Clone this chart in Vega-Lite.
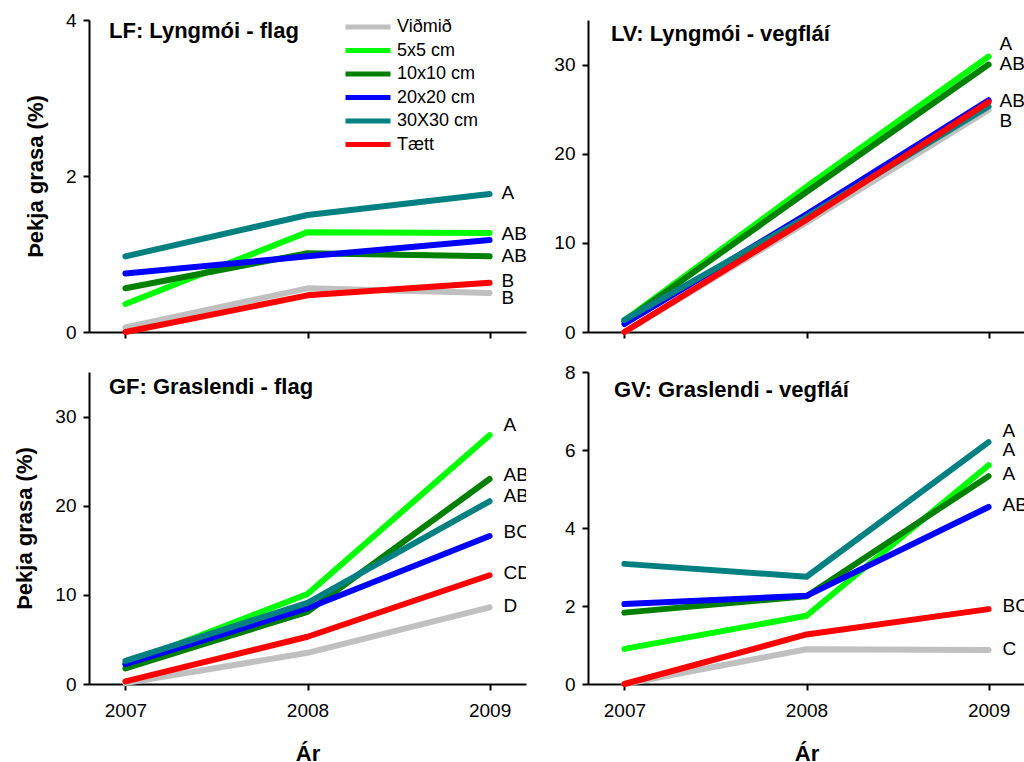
{
  "$schema": "https://vega.github.io/schema/vega-lite/v6.json",
  "background": "white",
  "padding": {"left": 13, "top": 11, "right": 0, "bottom": 0},
  "datasets": {
    "series": [
      {"panel": "LF", "treatment": "Viðmið", "year": 2007, "value": 0.06},
      {"panel": "LF", "treatment": "Viðmið", "year": 2008, "value": 0.56},
      {"panel": "LF", "treatment": "Viðmið", "year": 2009, "value": 0.50},
      {"panel": "LF", "treatment": "5x5 cm", "year": 2007, "value": 0.36},
      {"panel": "LF", "treatment": "5x5 cm", "year": 2008, "value": 1.28},
      {"panel": "LF", "treatment": "5x5 cm", "year": 2009, "value": 1.27},
      {"panel": "LF", "treatment": "10x10 cm", "year": 2007, "value": 0.56},
      {"panel": "LF", "treatment": "10x10 cm", "year": 2008, "value": 1.01},
      {"panel": "LF", "treatment": "10x10 cm", "year": 2009, "value": 0.97},
      {"panel": "LF", "treatment": "20x20 cm", "year": 2007, "value": 0.75},
      {"panel": "LF", "treatment": "20x20 cm", "year": 2008, "value": 0.97},
      {"panel": "LF", "treatment": "20x20 cm", "year": 2009, "value": 1.18},
      {"panel": "LF", "treatment": "30X30 cm", "year": 2007, "value": 0.97},
      {"panel": "LF", "treatment": "30X30 cm", "year": 2008, "value": 1.50},
      {"panel": "LF", "treatment": "30X30 cm", "year": 2009, "value": 1.77},
      {"panel": "LF", "treatment": "Tætt", "year": 2007, "value": 0.0},
      {"panel": "LF", "treatment": "Tætt", "year": 2008, "value": 0.47},
      {"panel": "LF", "treatment": "Tætt", "year": 2009, "value": 0.63},

      {"panel": "LV", "treatment": "Viðmið", "year": 2007, "value": 0.0},
      {"panel": "LV", "treatment": "Viðmið", "year": 2008, "value": 12.3},
      {"panel": "LV", "treatment": "Viðmið", "year": 2009, "value": 24.9},
      {"panel": "LV", "treatment": "5x5 cm", "year": 2007, "value": 1.3},
      {"panel": "LV", "treatment": "5x5 cm", "year": 2008, "value": 16.3},
      {"panel": "LV", "treatment": "5x5 cm", "year": 2009, "value": 30.9},
      {"panel": "LV", "treatment": "10x10 cm", "year": 2007, "value": 1.2},
      {"panel": "LV", "treatment": "10x10 cm", "year": 2008, "value": 15.7},
      {"panel": "LV", "treatment": "10x10 cm", "year": 2009, "value": 30.0},
      {"panel": "LV", "treatment": "20x20 cm", "year": 2007, "value": 0.9},
      {"panel": "LV", "treatment": "20x20 cm", "year": 2008, "value": 13.2},
      {"panel": "LV", "treatment": "20x20 cm", "year": 2009, "value": 26.0},
      {"panel": "LV", "treatment": "30X30 cm", "year": 2007, "value": 1.35},
      {"panel": "LV", "treatment": "30X30 cm", "year": 2008, "value": 12.9},
      {"panel": "LV", "treatment": "30X30 cm", "year": 2009, "value": 25.3},
      {"panel": "LV", "treatment": "Tætt", "year": 2007, "value": 0.0},
      {"panel": "LV", "treatment": "Tætt", "year": 2008, "value": 12.6},
      {"panel": "LV", "treatment": "Tætt", "year": 2009, "value": 25.8},

      {"panel": "GF", "treatment": "Viðmið", "year": 2007, "value": 0.1},
      {"panel": "GF", "treatment": "Viðmið", "year": 2008, "value": 3.5},
      {"panel": "GF", "treatment": "Viðmið", "year": 2009, "value": 8.6},
      {"panel": "GF", "treatment": "5x5 cm", "year": 2007, "value": 2.2},
      {"panel": "GF", "treatment": "5x5 cm", "year": 2008, "value": 10.1},
      {"panel": "GF", "treatment": "5x5 cm", "year": 2009, "value": 27.9},
      {"panel": "GF", "treatment": "10x10 cm", "year": 2007, "value": 1.76},
      {"panel": "GF", "treatment": "10x10 cm", "year": 2008, "value": 8.1},
      {"panel": "GF", "treatment": "10x10 cm", "year": 2009, "value": 23.0},
      {"panel": "GF", "treatment": "20x20 cm", "year": 2007, "value": 2.24},
      {"panel": "GF", "treatment": "20x20 cm", "year": 2008, "value": 8.5},
      {"panel": "GF", "treatment": "20x20 cm", "year": 2009, "value": 16.6},
      {"panel": "GF", "treatment": "30X30 cm", "year": 2007, "value": 2.6},
      {"panel": "GF", "treatment": "30X30 cm", "year": 2008, "value": 9.1},
      {"panel": "GF", "treatment": "30X30 cm", "year": 2009, "value": 20.5},
      {"panel": "GF", "treatment": "Tætt", "year": 2007, "value": 0.3},
      {"panel": "GF", "treatment": "Tætt", "year": 2008, "value": 5.3},
      {"panel": "GF", "treatment": "Tætt", "year": 2009, "value": 12.2},

      {"panel": "GV", "treatment": "Viðmið", "year": 2007, "value": 0.0},
      {"panel": "GV", "treatment": "Viðmið", "year": 2008, "value": 0.89},
      {"panel": "GV", "treatment": "Viðmið", "year": 2009, "value": 0.87},
      {"panel": "GV", "treatment": "5x5 cm", "year": 2007, "value": 0.90},
      {"panel": "GV", "treatment": "5x5 cm", "year": 2008, "value": 1.75},
      {"panel": "GV", "treatment": "5x5 cm", "year": 2009, "value": 5.61},
      {"panel": "GV", "treatment": "10x10 cm", "year": 2007, "value": 1.83},
      {"panel": "GV", "treatment": "10x10 cm", "year": 2008, "value": 2.25},
      {"panel": "GV", "treatment": "10x10 cm", "year": 2009, "value": 5.33},
      {"panel": "GV", "treatment": "20x20 cm", "year": 2007, "value": 2.05},
      {"panel": "GV", "treatment": "20x20 cm", "year": 2008, "value": 2.26},
      {"panel": "GV", "treatment": "20x20 cm", "year": 2009, "value": 4.54},
      {"panel": "GV", "treatment": "30X30 cm", "year": 2007, "value": 3.08},
      {"panel": "GV", "treatment": "30X30 cm", "year": 2008, "value": 2.75},
      {"panel": "GV", "treatment": "30X30 cm", "year": 2009, "value": 6.2},
      {"panel": "GV", "treatment": "Tætt", "year": 2007, "value": 0.0},
      {"panel": "GV", "treatment": "Tætt", "year": 2008, "value": 1.27},
      {"panel": "GV", "treatment": "Tætt", "year": 2009, "value": 1.92}
    ],
    "letters": [
      {"panel": "LF", "letter": "A", "year": 2009, "labelValue": 1.78},
      {"panel": "LF", "letter": "AB", "year": 2009, "labelValue": 1.26},
      {"panel": "LF", "letter": "AB", "year": 2009, "labelValue": 0.97},
      {"panel": "LF", "letter": "B", "year": 2009, "labelValue": 0.66},
      {"panel": "LF", "letter": "B", "year": 2009, "labelValue": 0.43},
      {"panel": "LV", "letter": "A", "year": 2009, "labelValue": 32.3},
      {"panel": "LV", "letter": "AB", "year": 2009, "labelValue": 30.05},
      {"panel": "LV", "letter": "AB", "year": 2009, "labelValue": 25.95},
      {"panel": "LV", "letter": "B", "year": 2009, "labelValue": 23.7},
      {"panel": "GF", "letter": "A", "year": 2009, "labelValue": 29.1},
      {"panel": "GF", "letter": "AB", "year": 2009, "labelValue": 23.5},
      {"panel": "GF", "letter": "ABC", "year": 2009, "labelValue": 21.1},
      {"panel": "GF", "letter": "BCD", "year": 2009, "labelValue": 17.0},
      {"panel": "GF", "letter": "CD", "year": 2009, "labelValue": 12.4},
      {"panel": "GF", "letter": "D", "year": 2009, "labelValue": 8.7},
      {"panel": "GV", "letter": "A", "year": 2009, "labelValue": 6.48},
      {"panel": "GV", "letter": "A", "year": 2009, "labelValue": 5.99},
      {"panel": "GV", "letter": "A", "year": 2009, "labelValue": 5.39},
      {"panel": "GV", "letter": "AB", "year": 2009, "labelValue": 4.60},
      {"panel": "GV", "letter": "BC", "year": 2009, "labelValue": 1.99},
      {"panel": "GV", "letter": "C", "year": 2009, "labelValue": 0.90}
    ]
  },
  "columns": 2,
  "spacing": {"row": 40, "column": 62},
  "bounds": "flush",
  "resolve": {"scale": {"y": "independent", "color": "independent"}, "legend": {"color": "independent"}},
  "concat": [
    {
      "width": 437, "height": 312,
      "title": {"text": "LF: Lyngmói - flag", "anchor": "start", "frame": "group", "offset": -19, "baseline": "alphabetic", "dx": 20, "dy": 30},
      "layer": [
        {
          "data": {"name": "series"},
          "transform": [{"filter": "datum.panel === 'LF'"}],
          "mark": {"type": "line", "strokeWidth": 6, "strokeCap": "round", "strokeJoin": "round"},
          "encoding": {
            "x": {"field": "year", "type": "quantitative", "scale": {"domain": [2006.8, 2009.2], "nice": false, "zero": false},
                  "axis": {"values": [2007, 2008, 2009], "labels": false, "title": null}},
            "y": {"field": "value", "type": "quantitative", "scale": {"domain": [0, 4], "nice": false},
                  "axis": {"values": [0, 2, 4], "format": "d", "title": "Þekja grasa (%)"}},
            "color": {"field": "treatment", "type": "nominal",
                      "scale": {"domain": ["Viðmið", "5x5 cm", "10x10 cm", "20x20 cm", "30X30 cm", "Tætt"],
                                "range": ["#c0c0c0", "#00ff00", "#008000", "#0000ff", "#008080", "#ff0000"]},
                      "legend": {"title": null, "orient": "none", "legendX": 269, "legendY": -3, "symbolType": "M-3,0L3,0", "symbolSize": 225, "symbolStrokeWidth": 5, "labelOffset": 19, "labelFontSize": 18, "labelFont": "Liberation Sans", "labelColor": "black", "rowPadding": 3.5, "padding": 0}}
          }
        },
        {
          "data": {"name": "letters"},
          "transform": [{"filter": "datum.panel === 'LF'"}],
          "mark": {"type": "text", "align": "left", "baseline": "middle", "dx": 12, "fontSize": 19, "font": "Liberation Sans", "color": "black", "clip": true},
          "encoding": {
            "x": {"field": "year", "type": "quantitative"},
            "y": {"field": "labelValue", "type": "quantitative"},
            "text": {"field": "letter"}
          }
        }
      ]
    },
    {
      "width": 437, "height": 312,
      "title": {"text": "LV: Lyngmói - vegfláí", "anchor": "start", "frame": "group", "offset": -19, "baseline": "alphabetic", "dx": 23, "dy": 24},
      "layer": [
        {
          "data": {"name": "series"},
          "transform": [{"filter": "datum.panel === 'LV'"}],
          "mark": {"type": "line", "strokeWidth": 6, "strokeCap": "round", "strokeJoin": "round"},
          "encoding": {
            "x": {"field": "year", "type": "quantitative", "scale": {"domain": [2006.8, 2009.2], "nice": false, "zero": false},
                  "axis": {"values": [2007, 2008, 2009], "labels": false, "title": null}},
            "y": {"field": "value", "type": "quantitative", "scale": {"domain": [0, 35], "nice": false},
                  "axis": {"values": [0, 10, 20, 30], "format": "d", "title": null}},
            "color": {"field": "treatment", "type": "nominal",
                      "scale": {"domain": ["Viðmið", "5x5 cm", "10x10 cm", "20x20 cm", "30X30 cm", "Tætt"],
                                "range": ["#c0c0c0", "#00ff00", "#008000", "#0000ff", "#008080", "#ff0000"]},
                      "legend": null}
          }
        },
        {
          "data": {"name": "letters"},
          "transform": [{"filter": "datum.panel === 'LV'"}],
          "mark": {"type": "text", "align": "left", "baseline": "middle", "dx": 11, "fontSize": 19, "font": "Liberation Sans", "color": "black", "clip": true},
          "encoding": {
            "x": {"field": "year", "type": "quantitative"},
            "y": {"field": "labelValue", "type": "quantitative"},
            "text": {"field": "letter"}
          }
        }
      ]
    },
    {
      "width": 437, "height": 312,
      "title": {"text": "GF: Graslendi - flag", "anchor": "start", "frame": "group", "offset": -19, "baseline": "alphabetic", "dx": 20, "dy": 25},
      "layer": [
        {
          "data": {"name": "series"},
          "transform": [{"filter": "datum.panel === 'GF'"}],
          "mark": {"type": "line", "strokeWidth": 6, "strokeCap": "round", "strokeJoin": "round"},
          "encoding": {
            "x": {"field": "year", "type": "quantitative", "scale": {"domain": [2006.8, 2009.2], "nice": false, "zero": false},
                  "axis": {"values": [2007, 2008, 2009], "format": "d", "title": "Ár"}},
            "y": {"field": "value", "type": "quantitative", "scale": {"domain": [0, 35], "nice": false},
                  "axis": {"values": [0, 10, 20, 30], "format": "d", "title": "Þekja grasa (%)"}},
            "color": {"field": "treatment", "type": "nominal",
                      "scale": {"domain": ["Viðmið", "5x5 cm", "10x10 cm", "20x20 cm", "30X30 cm", "Tætt"],
                                "range": ["#c0c0c0", "#00ff00", "#008000", "#0000ff", "#008080", "#ff0000"]},
                      "legend": null}
          }
        },
        {
          "data": {"name": "letters"},
          "transform": [{"filter": "datum.panel === 'GF'"}],
          "mark": {"type": "text", "align": "left", "baseline": "middle", "dx": 14, "fontSize": 19, "font": "Liberation Sans", "color": "black", "clip": true},
          "encoding": {
            "x": {"field": "year", "type": "quantitative"},
            "y": {"field": "labelValue", "type": "quantitative"},
            "text": {"field": "letter"}
          }
        }
      ]
    },
    {
      "width": 437, "height": 312,
      "title": {"text": "GV: Graslendi - vegfláí", "anchor": "start", "frame": "group", "offset": -19, "baseline": "alphabetic", "dx": 26, "dy": 37},
      "layer": [
        {
          "data": {"name": "series"},
          "transform": [{"filter": "datum.panel === 'GV'"}],
          "mark": {"type": "line", "strokeWidth": 6, "strokeCap": "round", "strokeJoin": "round"},
          "encoding": {
            "x": {"field": "year", "type": "quantitative", "scale": {"domain": [2006.8, 2009.2], "nice": false, "zero": false},
                  "axis": {"values": [2007, 2008, 2009], "format": "d", "title": "Ár"}},
            "y": {"field": "value", "type": "quantitative", "scale": {"domain": [0, 8], "nice": false},
                  "axis": {"values": [0, 2, 4, 6, 8], "format": "d", "title": null}},
            "color": {"field": "treatment", "type": "nominal",
                      "scale": {"domain": ["Viðmið", "5x5 cm", "10x10 cm", "20x20 cm", "30X30 cm", "Tætt"],
                                "range": ["#c0c0c0", "#00ff00", "#008000", "#0000ff", "#008080", "#ff0000"]},
                      "legend": null}
          }
        },
        {
          "data": {"name": "letters"},
          "transform": [{"filter": "datum.panel === 'GV'"}],
          "mark": {"type": "text", "align": "left", "baseline": "middle", "dx": 14, "fontSize": 19, "font": "Liberation Sans", "color": "black", "clip": true},
          "encoding": {
            "x": {"field": "year", "type": "quantitative"},
            "y": {"field": "labelValue", "type": "quantitative"},
            "text": {"field": "letter"}
          }
        }
      ]
    }
  ],
  "config": {
    "view": {"stroke": null},
    "font": "Liberation Sans",
    "title": {"fontSize": 22, "fontWeight": "bold", "font": "Liberation Sans", "color": "black"},
    "axis": {
      "grid": false,
      "domainColor": "black", "domainWidth": 2,
      "tickColor": "black", "tickWidth": 2, "tickSize": 6,
      "labelFont": "Liberation Sans", "labelFontSize": 19, "labelColor": "black", "labelPadding": 7,
      "titleFont": "Liberation Sans", "titleFontSize": 22, "titleFontWeight": "bold", "titleColor": "black"
    },
    "axisX": {"labelPadding": 11, "titlePadding": 23},
    "axisY": {"titlePadding": 18}
  }
}
